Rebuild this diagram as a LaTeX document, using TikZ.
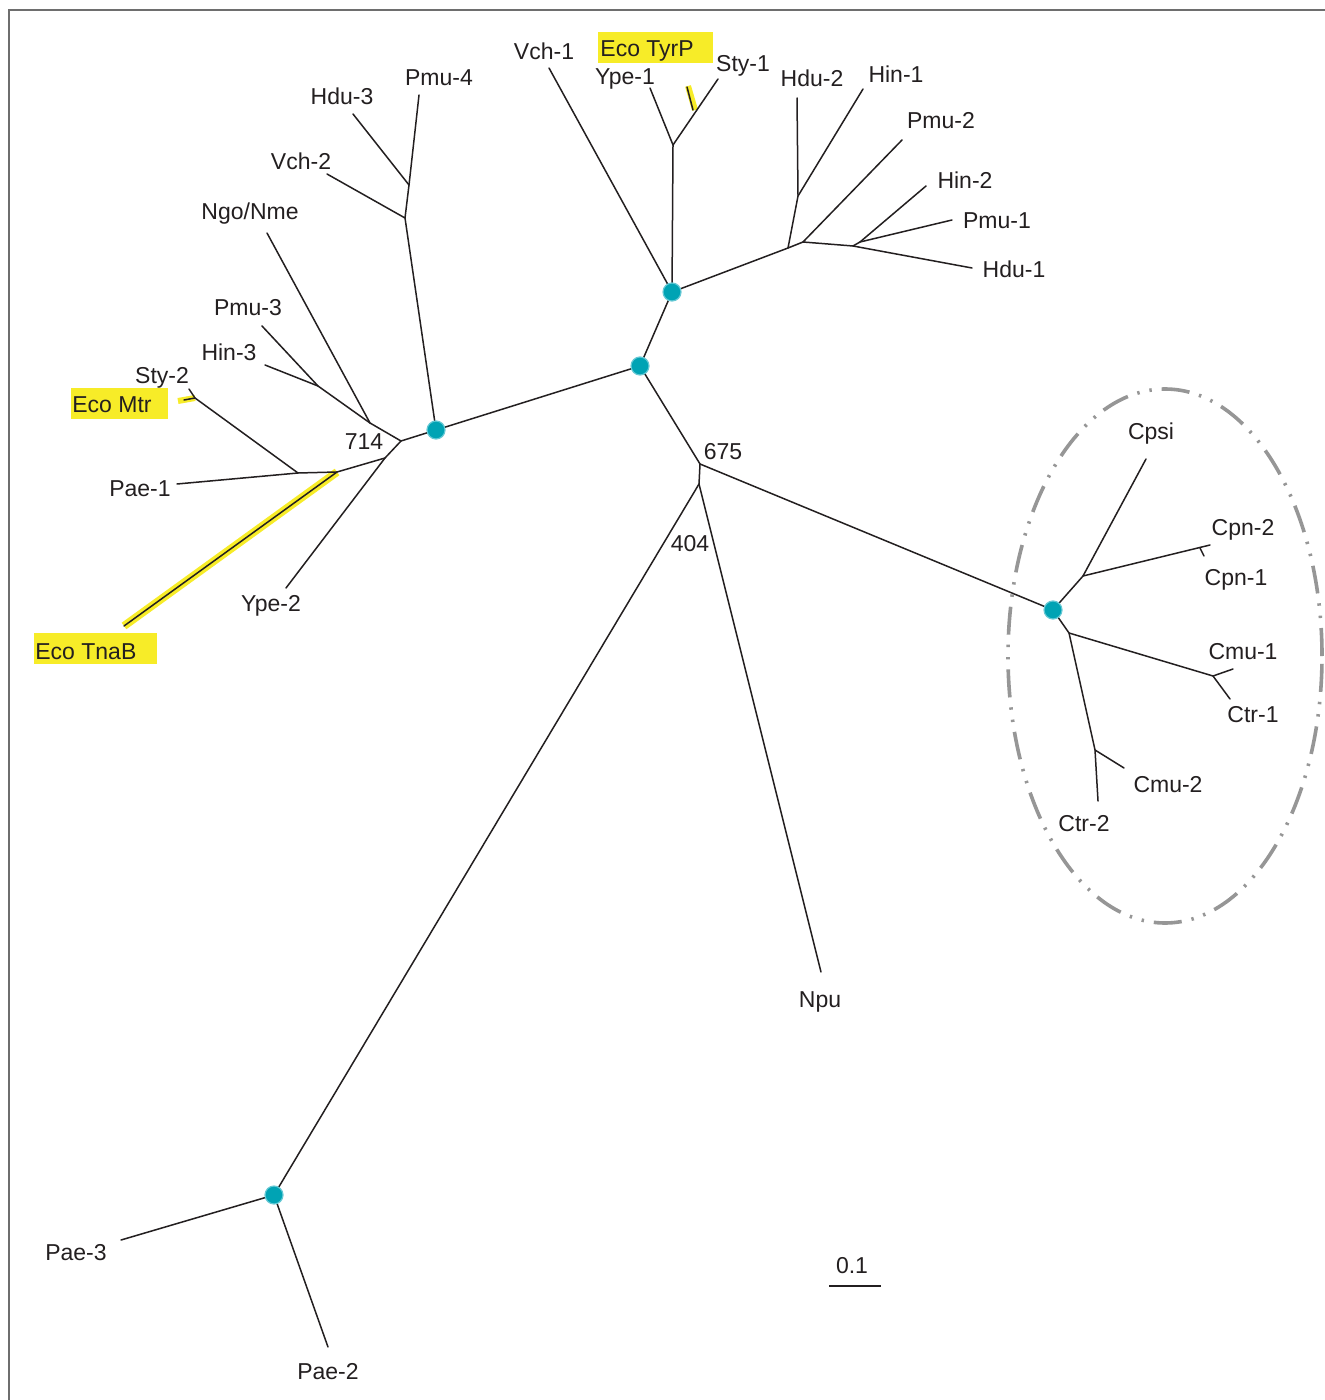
\documentclass[tikz,border=0pt]{standalone}
\usepackage{fontspec}
\setmainfont{Liberation Sans}
\definecolor{tealdot}{RGB}{0,163,180}
\definecolor{tealring}{RGB}{100,200,212}
\definecolor{hly}{RGB}{247,236,40}
\definecolor{txt}{RGB}{35,31,32}
\definecolor{ringgray}{RGB}{150,150,150}
\definecolor{framegray}{RGB}{110,110,110}
\begin{document}
\begin{tikzpicture}[x=0.5pt,y=-0.5pt,
  br/.style={line width=0.75pt, draw=txt, line join=round, line cap=round},
  lbl/.style={font=\fontsize{11.5}{13}\selectfont, text=txt, inner sep=0pt, anchor=base},
  hltext/.style={font=\fontsize{11.5}{13}\selectfont, text=txt, inner sep=0pt, anchor=base west},
  dotnode/.style={circle, fill=tealdot, draw=tealring, line width=0.6pt, minimum size=9pt, inner sep=0pt},
  hlline/.style={line width=4pt, draw=hly},
  ringstyle/.style={draw=ringgray, line width=1.8pt, dash pattern=on 14pt off 5pt on 1.2pt off 5pt on 1.2pt off 5pt}
]
\fill[white] (0,0) rectangle (1325,1400);
\useasboundingbox (0,0) rectangle (1325,1400);
\draw[framegray, line width=1pt] (1325,10) -- (9,10) -- (9,1400);

% ---------- internal nodes ----------
\coordinate (A) at (436,430);
\coordinate (B) at (640,366);
\coordinate (C) at (672,292);
\coordinate (D) at (1053,610);
\coordinate (E) at (274,1195);
\coordinate (n675) at (700,464);
\coordinate (n404) at (699,484);
% top
\coordinate (tYS) at (673,145);
\coordinate (tH1) at (788,248);
\coordinate (tH2) at (798,196);
\coordinate (tP2) at (803,242);
\coordinate (tHd1) at (853,246);
\coordinate (tHin2) at (860,242);
% left
\coordinate (lV2) at (405,218);
\coordinate (lP4) at (409,185);
\coordinate (n714) at (401,441);
\coordinate (lNg) at (370,423);
\coordinate (lP3) at (318,386);
\coordinate (lY2) at (385,458);
\coordinate (lTn) at (337,472);
\coordinate (lPa1) at (298,473);
\coordinate (lSt2) at (195,398);
% right
\coordinate (rCp) at (1083,576);
\coordinate (rCm) at (1069,633);
\coordinate (rCm1) at (1213,676);
\coordinate (rCm2) at (1095,750);
\coordinate (rCpn) at (1200,548);

% ---------- leaf ends ----------
\coordinate (eVch1) at (549,68);
\coordinate (eYpe1) at (650,88);
\coordinate (eSty1) at (718,79);
\coordinate (eHdu2) at (797,98);
\coordinate (eHin1) at (863,89);
\coordinate (ePmu2) at (902,140);
\coordinate (eHin2) at (926,186);
\coordinate (ePmu1) at (952,220);
\coordinate (eHdu1) at (972,268);
\coordinate (ePmu4) at (419,95);
\coordinate (eHdu3) at (353,114);
\coordinate (eVch2) at (327,174);
\coordinate (eNgo) at (267,233);
\coordinate (ePmu3) at (262,326);
\coordinate (eHin3) at (265,365);
\coordinate (eSty2) at (189,389);
\coordinate (eMtr) at (178,401);
\coordinate (ePae1) at (177,484);
\coordinate (eTnaB) at (124,626);
\coordinate (eYpe2) at (286,588);
\coordinate (eCpsi) at (1146,459);
\coordinate (eCpn2) at (1210,545);
\coordinate (eCpn1) at (1204,556);
\coordinate (eCmu1) at (1233,669);
\coordinate (eCtr1) at (1230,699);
\coordinate (eCmu2) at (1124,768);
\coordinate (eCtr2) at (1098,801);
\coordinate (eNpu) at (821,972);
\coordinate (ePae3) at (121,1240);
\coordinate (ePae2) at (328,1347);
\coordinate (sbL) at (829,1286);
\coordinate (sbR) at (881,1286);

% ---------- highlights ----------
\fill[hly] (598,32) rectangle (713,63);
\fill[hly] (71,388) rectangle (168,419);
\fill[hly] (34,633) rectangle (157,664);
\draw[hlline] (eTnaB) -- (lTn);
\draw[hlline, line width=3pt] (688,86) -- (695,110);
\draw[hlline, line width=3pt] (eMtr) -- (lSt2);

% ---------- ellipse ----------
\draw[ringstyle] (1165,656) ellipse [x radius=78.5pt, y radius=133.5pt];

% ---------- branches ----------
\draw[br] (A) -- (B) -- (C);
\draw[br] (B) -- (n675) -- (n404);
\draw[br] (n675) -- (D);
\draw[br] (n404) -- (E);
\draw[br] (n404) -- (eNpu);
\draw[br] (E) -- (ePae3);
\draw[br] (E) -- (ePae2);
% top cluster
\draw[br] (C) -- (eVch1);
\draw[br] (C) -- (tYS);
\draw[br] (tYS) -- (eYpe1);
\draw[br] (tYS) -- (eSty1);
\draw[br] (687,87) -- (693,110);
\draw[br] (C) -- (tH1) -- (tH2) -- (eHdu2);
\draw[br] (tH2) -- (eHin1);
\draw[br] (tH1) -- (tP2) -- (ePmu2);
\draw[br] (tP2) -- (tHd1) -- (eHdu1);
\draw[br] (tHd1) -- (tHin2) -- (eHin2);
\draw[br] (tHin2) -- (ePmu1);
% left cluster
\draw[br] (A) -- (lV2) -- (lP4) -- (ePmu4);
\draw[br] (lP4) -- (eHdu3);
\draw[br] (lV2) -- (eVch2);
\draw[br] (A) -- (n714) -- (lNg) -- (eNgo);
\draw[br] (lNg) -- (lP3) -- (ePmu3);
\draw[br] (lP3) -- (eHin3);
\draw[br] (n714) -- (lY2) -- (eYpe2);
\draw[br] (lY2) -- (lTn) -- (eTnaB);
\draw[br] (lTn) -- (lPa1) -- (ePae1);
\draw[br] (lPa1) -- (lSt2) -- (eSty2);
\draw[br] (lSt2) -- (184,400);
% right cluster
\draw[br] (D) -- (rCp) -- (eCpsi);
\draw[br] (rCp) -- (eCpn2);
\draw[br] (rCpn) -- (eCpn1);
\draw[br] (D) -- (rCm) -- (rCm1) -- (eCmu1);
\draw[br] (rCm1) -- (eCtr1);
\draw[br] (rCm) -- (rCm2) -- (eCtr2);
\draw[br] (rCm2) -- (eCmu2);
% scale bar
\draw[br, line width=0.9pt, line cap=butt] (sbL) -- (sbR);

% ---------- dots ----------
\node[dotnode] (dA) at (A) {};
\node[dotnode] (dB) at (B) {};
\node[dotnode] (dC) at (C) {};
\node[dotnode] (dD) at (D) {};
\node[dotnode] (dE) at (E) {};

% ---------- labels ----------
\node[lbl] (Vch1) at (544,60) {Vch-1};
\node[hltext] (TyrP) at (600,57) {Eco TyrP};
\node[lbl] (Ype1) at (625,85) {Ype-1};
\node[lbl] (Sty1) at (743,72) {Sty-1};
\node[lbl] (Hdu2) at (812,87) {Hdu-2};
\node[lbl] (Hin1) at (896,83) {Hin-1};
\node[lbl] (Pmu2) at (941,129) {Pmu-2};
\node[lbl] (Hin2) at (965,189) {Hin-2};
\node[lbl] (Pmu1) at (997,229) {Pmu-1};
\node[lbl] (Hdu1) at (1014,278) {Hdu-1};
\node[lbl] (Pmu4) at (439,86) {Pmu-4};
\node[lbl] (Hdu3) at (342,105) {Hdu-3};
\node[lbl] (Vch2) at (301,170) {Vch-2};
\node[lbl] (Ngo) at (250,220) {Ngo/Nme};
\node[lbl] (Pmu3) at (248,316) {Pmu-3};
\node[lbl] (Hin3) at (229,361) {Hin-3};
\node[lbl] (Sty2) at (162,384) {Sty-2};
\node[hltext] (Mtr) at (72,413) {Eco Mtr};
\node[lbl] (Pae1) at (140,496) {Pae-1};
\node[lbl] (Ype2) at (271,611) {Ype-2};
\node[hltext] (TnaB) at (35,659) {Eco TnaB};
\node[lbl] (b714) at (364,450) {714};
\node[lbl] (b675) at (723,460) {675};
\node[lbl] (b404) at (690,551) {404};
\node[lbl] (Cpsi) at (1151,440) {Cpsi};
\node[lbl] (Cpn2) at (1243,535) {Cpn-2};
\node[lbl] (Cpn1) at (1236,585) {Cpn-1};
\node[lbl] (Cmu1) at (1243,659) {Cmu-1};
\node[lbl] (Ctr1) at (1253,722) {Ctr-1};
\node[lbl] (Cmu2) at (1168,792) {Cmu-2};
\node[lbl] (Ctr2) at (1084,831) {Ctr-2};
\node[lbl] (Npu) at (820,1007) {Npu};
\node[lbl] (Pae3) at (76,1260) {Pae-3};
\node[lbl] (Pae2) at (328,1379) {Pae-2};
\node[lbl] (scale) at (852,1273) {0.1};
\end{tikzpicture}
\end{document}
